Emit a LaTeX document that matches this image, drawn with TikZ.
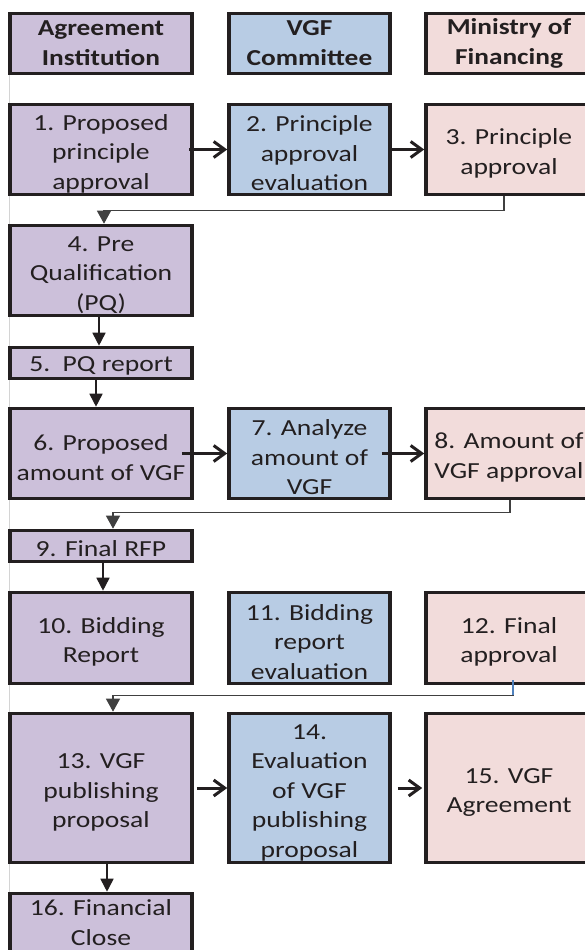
\documentclass[tikz,border=0pt]{standalone}
\usepackage{fontspec}
\setmainfont{Carlito}[FakeStretch=1.2]
\usetikzlibrary{arrows.meta}

\definecolor{agrfill}{RGB}{204,192,218}
\definecolor{comfill}{RGB}{184,204,228}
\definecolor{moffill}{RGB}{242,220,219}
\definecolor{boxline}{RGB}{35,31,32}
\definecolor{linegray}{RGB}{64,64,64}
\definecolor{tickblue}{RGB}{79,129,189}
\definecolor{edgegray}{RGB}{212,212,212}

% first-line strut: pushes the text block a little lower in its box
\newcommand{\lowtext}[1][24pt]{\rule{0pt}{#1}}

\tikzset{
  frame/.style={draw=boxline, line width=3.6pt, inner sep=0pt, align=center, text=boxline},
  box/.style={frame, minimum height=90pt, font=\fontsize{23}{29.5}\selectfont},
  headbox/.style={frame, minimum height=60pt, font=\fontsize{22.8}{30}\selectfont\bfseries},
  agr/.style={fill=agrfill, minimum width=182pt},
  com/.style={fill=comfill, minimum width=161pt},
  mof/.style={fill=moffill, minimum width=166pt},
  flowarrow/.style={draw=boxline, line width=3pt, -{Straight Barb[length=11pt,width=16pt]}},
  downarrow/.style={draw=boxline, line width=1.7pt, -{Triangle[length=13pt,width=13pt]}},
  backline/.style={draw=linegray, line width=1.3pt, -{Triangle[length=13pt,width=14pt]}}
}

\begin{document}
\begin{tikzpicture}[x=1pt, y=-1pt]

\useasboundingbox (0,0) rectangle (585,950);
\clip (0,0) rectangle (585,950);

% Margine sinistro
\draw[edgegray, line width=1.5pt] (9.5,74) -- (9.5,950);

% Intestazioni
\node[headbox, agr] (h1) at (101,43.5) {Agreement\\Institution};
\node[headbox, com] (h2) at (309.5,43.5) {VGF\\Committee};
\node[headbox, mof] (h3) at (509,43.5) {Ministry of\\Financing};

% Passi
\node[box, agr] (b1) at (101,149.5) {\lowtext 1. Proposed\\principle\\approval};
\node[box, com] (b2) at (309.5,149.5) {\lowtext 2. Principle\\approval\\evaluation};
\node[box, mof] (b3) at (509,149.5) {\lowtext 3. Principle\\approval};
\node[box, agr] (b4) at (101,270.5) {\lowtext 4. Pre\\Qualification\\(PQ)};
\node[box, agr, minimum height=31pt] (b5) at (101,363) {\lowtext[21pt]5.\ \ PQ report};
\node[box, agr] (b6) at (101,453.5) {\lowtext 6. Proposed\\amount of VGF};
\node[box, com] (b7) at (309.5,453.5) {\lowtext 7. Analyze\\amount of\\VGF};
\node[box, mof] (b8) at (509,453.5) {\lowtext 8. Amount of\\VGF approval};
\node[box, agr, minimum height=31pt] (b9) at (101,546) {\lowtext[21pt]9. Final RFP};
\node[box, agr, minimum height=91pt] (b10) at (101,638) {\lowtext 10. Bidding\\Report};
\node[box, com, minimum height=91pt] (b11) at (309.5,638) {\lowtext 11. Bidding\\report\\evaluation};
\node[box, mof, minimum height=91pt] (b12) at (509,638) {\lowtext 12. Final\\approval};
\node[box, agr, minimum height=149pt] (b13) at (101,788) {\lowtext 13. VGF\\publishing\\proposal};
\node[box, com, minimum height=149pt] (b14) at (309.5,788) {\lowtext 14.\\Evaluation\\of VGF\\publishing\\proposal};
\node[box, mof, minimum height=149pt] (b15) at (509,788) {\lowtext 15. VGF\\Agreement};
\node[box, agr, minimum height=58pt] (b16) at (101,922.5) {16. Financial\\Close};

% Frecce orizzontali
\draw[flowarrow] ([xshift=-5pt]b1.east) -- (b2.west);
\draw[flowarrow] (b2.east) -- (b3.west);
\draw[flowarrow] ([xshift=-12pt]b6.east) -- (b7.west);
\draw[flowarrow] ([xshift=-10pt]b7.east) -- (b8.west);
\draw[flowarrow] ([xshift=3pt]b13.east) -- (b14.west);
\draw[flowarrow] ([xshift=6pt]b14.east) -- ([xshift=-2pt]b15.west);

% Frecce verticali
\draw[downarrow] ([xshift=-2pt]b4.south) -- ([xshift=-2pt]b5.north);
\draw[downarrow] ([xshift=-5pt]b5.south) -- ([xshift=-5pt]b6.north);
\draw[downarrow] ([xshift=2pt]b9.south) -- ([xshift=2pt]b10.north);
\draw[downarrow] ([xshift=6pt]b13.south) -- ([xshift=6pt]b16.north);

% Ritorni alla prima colonna
\draw[backline] ([xshift=-5pt]b3.south) -- ++(0,14) -| ([xshift=3pt]b4.north);
\draw[backline] ([xshift=1pt]b8.south) -- ++(0,12) -| ([xshift=12pt]b9.north);
\draw[backline] ([xshift=4pt]b12.south) -- ++(0,10) -| ([xshift=12pt]b13.north);
\draw[tickblue, line width=1.3pt] ([xshift=4pt,yshift=5pt]b12.south) -- ++(0,15);

\end{tikzpicture}
\end{document}
